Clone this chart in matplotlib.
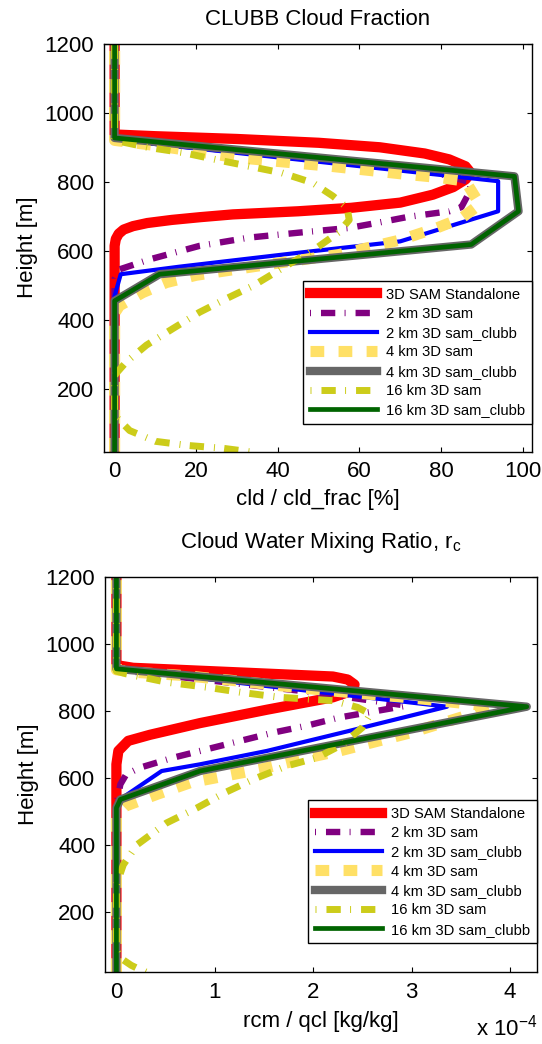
import matplotlib
matplotlib.use('Agg')
import matplotlib.pyplot as plt

plt.rcParams['font.family'] = ['Liberation Sans', 'DejaVu Sans']
plt.rcParams['mathtext.fontset'] = 'custom'
plt.rcParams['mathtext.rm'] = 'Liberation Sans'
plt.rcParams['mathtext.it'] = 'Liberation Sans'
plt.rcParams['lines.scale_dashes'] = False

labels = ['3D SAM Standalone', '2 km 3D sam', '2 km 3D sam_clubb', '4 km 3D sam',
          '4 km 3D sam_clubb', '16 km 3D sam', '16 km 3D sam_clubb']

# ---- cloud fraction [%] vs height [m]
cf_sam_h = [20, 615, 635, 650, 662, 672, 681, 690, 698, 706, 715, 725, 740, 763, 785, 807, 826, 845, 865, 882, 900, 913, 924, 932, 937, 1200]
cf_sam_x = [0, 0, 0.3, 1, 2.2, 4.5, 8, 14, 21, 29, 45, 58, 70, 78, 83, 86, 87.3, 86, 82, 76, 65, 50, 30, 10, 0, 0]
cf_2sam_h = [20, 520, 547, 576, 615, 639, 653, 667, 683, 699, 715, 727, 760, 798, 822, 835, 876, 925, 1200]
cf_2sam_x = [0, 0, 1.2, 8.6, 20.8, 33, 45, 57.6, 65, 72, 82, 85, 86.5, 87.5, 80, 73, 40, 0, 0]
cf_2clubb_h = [20, 470, 533, 555, 595, 628, 715, 802, 922, 1200]
cf_2clubb_x = [0, 0, 1.5, 16, 45, 70, 94, 94, 0, 0]
cf_4sam_h = [20, 420, 442, 480, 509, 530, 560, 590, 632, 667, 695, 735, 802, 812, 821, 845, 870, 905, 920, 1200]
cf_4sam_x = [0, 0, 1.2, 6.9, 12.7, 20, 37, 55, 70, 79, 85, 89.5, 86, 80, 72, 53, 30, 10, 0, 0]
cf_4clubb_h = [20, 456, 533, 619, 715, 816, 927, 1200]
cf_4clubb_x = [0, 0, 11, 87.4, 99, 98, 0, 0]
cf_16sam_h = [20, 30, 38, 50, 81, 125, 240, 252, 280, 328, 376, 423, 462, 500, 557, 608, 655, 690,
              725, 759, 797, 826, 845, 864, 884, 900, 920, 1200]
cf_16sam_x = [33, 26.5, 18, 10, 3.7, 0, 0, 0.8, 2.9, 7.8, 14.3, 20.8, 27.3, 34, 42, 49.4, 55, 57.5,
              57, 53.5, 48.6, 41, 33, 25, 17, 8, 0, 0]
cf_16clubb_h = [20, 456, 533, 619, 715, 816, 927, 1200]
cf_16clubb_x = [0, 0, 11, 87.4, 99, 98, 0, 0]

# ---- cloud water mixing ratio [1e-4 kg/kg] vs height [m]
rc_sam_h = [20, 640, 680, 710, 728, 763, 803, 840, 860, 878, 893, 902, 915, 928, 936, 1200]
rc_sam_x = [0, 0, 0.02, 0.12, 0.34, 0.85, 1.53, 2.2, 2.4, 2.42, 2.35, 2.2, 1.19, 0.17, 0, 0]
rc_2sam_h = [20, 520, 550, 580, 610, 630, 660, 685, 710, 735, 755, 780, 797, 815, 855, 882, 922, 1200]
rc_2sam_x = [0, 0, 0.02, 0.04, 0.1, 0.24, 0.58, 0.92, 1.26, 1.6, 1.93, 2.27, 2.6, 2.95, 2.0, 1.2, 0, 0]
rc_2clubb_h = [20, 500, 530, 620, 640, 680, 740, 812, 925, 1200]
rc_2clubb_x = [0, 0, 0.01, 0.46, 0.85, 1.53, 2.37, 3.36, 0, 0]
rc_4sam_h = [20, 490, 515, 550, 585, 625, 665, 680, 735, 812, 838, 855, 868, 890, 905, 915, 922, 1200]
rc_4sam_x = [0, 0, 0.09, 0.41, 0.75, 1.46, 2.03, 2.27, 3.0, 3.85, 3.0, 2.34, 1.87, 1.19, 0.68, 0.17, 0, 0]
rc_4clubb_h = [20, 510, 535, 620, 812, 925, 1200]
rc_4clubb_x = [0, 0, 0.04, 0.85, 4.17, 0, 0]
rc_16sam_h = [20, 30, 40, 60, 90, 280, 340, 400, 465, 510, 555, 595, 635, 660, 700, 750, 790, 810,
              830, 840, 855, 870, 885, 910, 918, 1200]
rc_16sam_x = [0.3, 0.22, 0.15, 0.05, 0, 0, 0.07, 0.21, 0.51, 0.82, 1.10, 1.39, 1.73, 2.04, 2.3, 2.5, 2.58, 2.45,
              2.2, 1.66, 1.26, 0.92, 0.51, 0.1, 0, 0]
rc_16clubb_h = [20, 510, 535, 620, 812, 925, 1200]
rc_16clubb_x = [0, 0, 0.04, 0.85, 4.17, 0, 0]
rc_scale = 1e-4

dashdot = (0, (0.7, 7.2, 10.3, 6.7))
styles = [
    dict(color='#ff0000', lw=7.4, ls='-'),
    dict(color='#800080', lw=4.6, ls=dashdot),
    dict(color='#0000ff', lw=3.0, ls='-'),
    dict(color='#ffe066', lw=8.0, ls=(0, (9.9, 10.3))),
    dict(color='#666666', lw=6.0, ls='-'),
    dict(color='#cccc1a', lw=5.0, ls=dashdot),
    dict(color='#006400', lw=3.4, ls='-'),
]

FS = 16


def style_axes(ax):
    ax.tick_params(direction='in', top=True, right=True, length=3.6, width=0.8,
                   labelsize=FS, pad=7)
    for s in ax.spines.values():
        s.set_linewidth(1.0)
    ax.set_ylim(20, 1200)
    ax.set_yticks([200, 400, 600, 800, 1000, 1200])
    ax.set_ylabel('Height [m]', fontsize=FS, labelpad=5)


def add_legend(ax, y0):
    leg = ax.legend(loc='lower right', bbox_to_anchor=(1.0, y0), borderaxespad=0,
                    fontsize=10.6, handlelength=4.6, handletextpad=0.6, borderpad=0.45,
                    labelspacing=0.36, fancybox=False, framealpha=1, edgecolor='black')
    leg.get_frame().set_linewidth(1.0)


fig = plt.figure(figsize=(5.42, 10.44), dpi=100)

ax1 = fig.add_axes([104 / 542, 1 - 451.7 / 1044, 428 / 542, 408.2 / 1044])
cf = [(cf_sam_x, cf_sam_h), (cf_2sam_x, cf_2sam_h), (cf_2clubb_x, cf_2clubb_h),
      (cf_4sam_x, cf_4sam_h), (cf_4clubb_x, cf_4clubb_h), (cf_16sam_x, cf_16sam_h),
      (cf_16clubb_x, cf_16clubb_h)]
for (x, h), st, lab in zip(cf, styles, labels):
    ax1.plot(x, h, label=lab, **st)
style_axes(ax1)
ax1.set_xlim(-2.6, 102.3)
ax1.set_xticks([0, 20, 40, 60, 80, 100])
ax1.set_xlabel('cld / cld_frac [%]', fontsize=FS, labelpad=5)
ax1.set_title('CLUBB Cloud Fraction', fontsize=FS, pad=13)
add_legend(ax1, 0.068)

ax2 = fig.add_axes([105 / 542, 1 - 972 / 1044, 432 / 542, 395.3 / 1044])
rc = [(rc_sam_x, rc_sam_h), (rc_2sam_x, rc_2sam_h), (rc_2clubb_x, rc_2clubb_h),
      (rc_4sam_x, rc_4sam_h), (rc_4clubb_x, rc_4clubb_h), (rc_16sam_x, rc_16sam_h),
      (rc_16clubb_x, rc_16clubb_h)]
for (x, h), st, lab in zip(rc, styles, labels):
    ax2.plot([v * rc_scale for v in x], h, label=lab, **st)
style_axes(ax2)
ax2.set_xlim(-0.116e-4, 4.274e-4)
ax2.set_xticks([0, 1e-4, 2e-4, 3e-4, 4e-4])
ax2.set_xticklabels(['0', '1', '2', '3', '4'])
ax2.set_xlabel('rcm / qcl [kg/kg]', fontsize=FS, labelpad=6)
ax2.set_title(r'Cloud Water Mixing Ratio, r$_\mathrm{c}$', fontsize=FS, pad=21)
ax2.text(1.0, -0.14, r'x 10$^{-4}$', transform=ax2.transAxes, ha='right', va='center',
         fontsize=FS)
add_legend(ax2, 0.073)

fig.savefig('out.png', dpi=100)
